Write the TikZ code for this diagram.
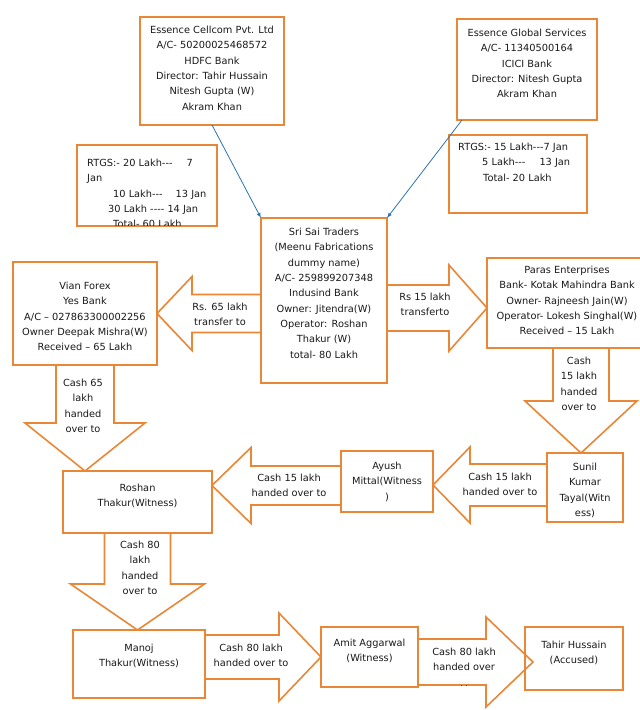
\documentclass[tikz,border=0pt]{standalone}
\usepackage{fontspec}
\setmainfont{DejaVu Sans}
\usetikzlibrary{arrows,calc}
\definecolor{boxorange}{RGB}{233,135,55}
\definecolor{linkblue}{RGB}{45,115,175}
\definecolor{ink}{RGB}{25,25,25}
\newcommand\boxfont{\fontsize{9.8pt}{15.3pt}\selectfont}

\begin{document}
\begin{tikzpicture}[x=1pt,y=-1pt]
            \tikzset{account/.style = {shape=rectangle, draw=boxorange, line width=1.6pt, inner sep=0pt, outer sep=0pt}}
            \tikzset{words/.style = {anchor=north, inner sep=0pt, align=center, font=\boxfont, text=ink}}
            \tikzset{link/.style = {draw=linkblue, line width=0.8pt, ->, >=latex}}
            \tikzset{fat/.style n args = {3}{draw=boxorange, line width=1.6pt, line join=miter,
              to path={let \p1=(\tikztostart), \p2=(\tikztotarget), \n1={atan2(\y2-\y1,\x2-\x1)} in
                ($(\p1)+(\n1+90:#1pt)$) -- ($(\p2)+(\n1+180:#3pt)+(\n1+90:#1pt)$)
                -- ($(\p2)+(\n1+180:#3pt)+(\n1+90:#2pt)$) -- (\p2)
                -- ($(\p2)+(\n1+180:#3pt)+(\n1-90:#2pt)$) -- ($(\p2)+(\n1+180:#3pt)+(\n1-90:#1pt)$)
                -- ($(\p1)+(\n1-90:#1pt)$) -- cycle}}}
            \useasboundingbox (0,0) rectangle (640,710);
            \clip (0,0) rectangle (640,710);
            % boxes
            \node[account, minimum width=144pt, minimum height=108pt] (cellcom) at (212,71) {};
            \node[account, minimum width=140pt, minimum height=101pt] (global) at (527,69.5) {};
            \node[account, minimum width=140pt, minimum height=81pt] (rtgsa) at (147,185.5) {};
            \node[account, minimum width=138pt, minimum height=78pt] (rtgsb) at (518,174) {};
            \node[account, minimum width=126pt, minimum height=165pt] (sai) at (324,300.5) {};
            \node[account, minimum width=144pt, minimum height=103pt] (vian) at (85,313.5) {};
            \node[account, minimum width=156pt, minimum height=90pt] (paras) at (565,303) {};
            \node[account, minimum width=76pt, minimum height=69pt] (sunil) at (585,487.5) {};
            \node[account, minimum width=92pt, minimum height=61pt] (ayush) at (387,481.5) {};
            \node[account, minimum width=149pt, minimum height=62pt] (roshan) at (137.5,502) {};
            \node[account, minimum width=132pt, minimum height=68pt] (manoj) at (139,664) {};
            \node[account, minimum width=97pt, minimum height=60pt] (amit) at (369.5,657) {};
            \node[account, minimum width=98pt, minimum height=63pt] (tahir) at (574,658.5) {};
            % box texts
            \node[words] (cellcom-t) at (212,26) {Essence Cellcom Pvt. Ltd\\A/C- 50200025468572\\HDFC Bank\\Director: Tahir Hussain\\Nitesh Gupta (W)\\Akram Khan};
            \node[words] (global-t) at (527,29) {Essence Global Services\\A/C- 11340500164\\ICICI Bank\\Director: Nitesh Gupta\\Akram Khan};
            \begin{scope}
              \clip ($(rtgsa.north west)+(0.8,0.8)$) rectangle ($(rtgsa.south east)+(-0.8,-0.8)$);
              \node[words, align=left, anchor=north west] (rtgsa-t) at (87,159) {RTGS:- 20 Lakh-{}-{}-\hspace{14pt}7\\Jan\\\hspace*{26pt}10 Lakh-{}-{}-\hspace{13pt}13 Jan\\\hspace*{21pt}30 Lakh -{}-{}-{}- 14 Jan\\\hspace*{26pt}Total- 60 Lakh};
            \end{scope}
            \node[words, align=left, anchor=north west] (rtgsb-t) at (458,143) {RTGS:- 15 Lakh-{}-{}-7 Jan\\\hspace*{24pt}5 Lakh-{}-{}-\hspace{14pt}13 Jan\\\hspace*{25pt}Total- 20 Lakh};
            \node[words] (sai-t) at (324,228) {Sri Sai Traders\\(Meenu Fabrications\\dummy name)\\A/C- 259899207348\\Indusind Bank\\Owner: Jitendra(W)\\Operator: Roshan\\Thakur (W)\\total- 80 Lakh};
            \node[words] (vian-t) at (85,282) {Vian Forex\\Yes Bank\\A/C – 027863300002256\\Owner Deepak Mishra(W)\\Received – 65 Lakh};
            \node[words] (paras-t) at (567,266) {Paras Enterprises\\Bank- Kotak Mahindra Bank\\Owner- Rajneesh Jain(W)\\Operator- Lokesh Singhal(W)\\Received – 15 Lakh};
            \node[words] (sunil-t) at (585,463) {Sunil\\Kumar\\Tayal(Witn\\ess)};
            \node[words] (ayush-t) at (387,462) {Ayush\\Mittal(Witness\\)};
            \node[words] (roshan-t) at (137.5,484) {Roshan\\Thakur(Witness)};
            \node[words] (manoj-t) at (139,644) {Manoj\\Thakur(Witness)};
            \node[words] (amit-t) at (369.5,639) {Amit Aggarwal\\(Witness)};
            \node[words] (tahir-t) at (574,641) {Tahir Hussain\\(Accused)};
            % money flow
            \draw[link] (cellcom.south) to (sai.north west);
            \draw[link] ($(global.south west)+(5,0)$) to (sai.north east);
            \draw[fat={19}{37}{35}] (sai.west |- vian.east) to (vian.east);
            \draw[fat={23}{43}{38}] ($(sai.east |- paras.west)+(0,5)$) to ($(paras.west)+(0,5)$);
            \draw[fat={29}{60}{48}] (vian.south) to (vian.south |- roshan.north);
            \draw[fat={28}{56}{52}] ($(sunil.north |- paras.south)+(-4,0)$) to ($(sunil.north)+(-4,0)$);
            \draw[fat={21}{38}{37}] ($(sunil.west |- ayush.east)+(0,3.5)$) to ($(ayush.east)+(0,3.5)$);
            \draw[fat={19.5}{38}{39}] ($(ayush.west)+(0,4)$) to ($(ayush.west -| roshan.east)+(0,4)$);
            \draw[fat={33}{67}{46}] (roshan.south) to (roshan.south |- manoj.north);
            \draw[fat={22}{44}{42}] (manoj.east |- amit.west) to (amit.west);
            \draw[fat={23}{45}{47}] ($(amit.east)+(0,5)$) to ($(amit.east -| tahir.west)+(8,5)$);
            % arrow texts
            \node[words] (rs65) at (220,303) {Rs. 65 lakh\\transfer to};
            \node[words] (rs15) at (425,293) {Rs 15 lakh\\transferto};
            \node[words] (cash65) at (83,379) {Cash 65\\lakh\\handed\\over to};
            \node[words] (cash15a) at (579,357) {Cash\\15 lakh\\handed\\over to};
            \node[words] (cash15b) at (500,473) {Cash 15 lakh\\handed over to};
            \node[words] (cash15c) at (289,474) {Cash 15 lakh\\handed over to};
            \node[words] (cash80a) at (140,541) {Cash 80\\lakh\\handed\\over to};
            \node[words] (cash80b) at (251,644) {Cash 80 lakh\\handed over to};
            \node[words] (cash80c) at (464,648) {Cash 80 lakh\\handed over\\{\scriptsize . .}};
        \end{tikzpicture}
\end{document}
